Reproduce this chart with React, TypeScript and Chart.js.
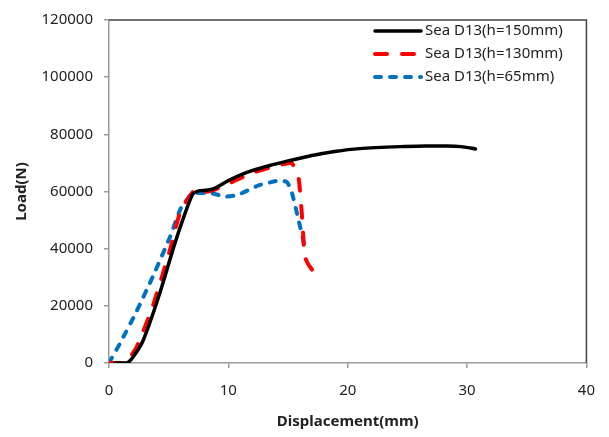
import React, { useEffect, useRef } from "react";
import { Chart, registerables } from "chart.js";

Chart.register(...registerables);

// ---- data ----
const seriesLabels = ["Sea D13(h=150mm)", "Sea D13(h=130mm)", "Sea D13(h=65mm)"];

const h150X = [0.5, 1.5, 2.0, 2.85, 4.2, 5.6, 7.0, 7.6, 8.1, 8.8, 10, 11.5, 13.4, 15, 17, 18.9, 21, 24.4, 26.5, 28.3, 29.5, 30.7];
const h150Y = [0, 0, 2000, 7800, 23700, 42900, 59000, 60300, 60400, 61000, 63800, 66600, 69000, 70700, 72600, 74000, 75000, 75700, 75900, 75950, 75700, 74900];

const h130X = [0, 1.3, 2.3, 3.7, 5.1, 6.0, 7.15, 7.9, 8.7, 10.3, 12, 13.9, 14.8, 15.3, 15.6, 15.9, 16.2, 16.4, 16.7, 17.0, 17.4];
const h130Y = [0, 0, 5500, 20300, 39500, 53100, 60400, 59800, 60400, 63300, 66500, 68900, 69700, 70000, 67900, 64400, 49700, 37300, 34500, 32700, 30200];

const h65X = [0, 0.9, 2.3, 3.7, 5.1, 6.0, 6.6, 7.0, 8.0, 8.7, 9.8, 10.9, 12.5, 13.5, 14.2, 14.9, 15.3, 15.9, 16.4];
const h65Y = [0, 6700, 18000, 30500, 44000, 54000, 57500, 59300, 59500, 59300, 58200, 59000, 62100, 63200, 63800, 63300, 59900, 49700, 40600];

const xTicks = [0, 10, 20, 30, 40];
const yTicks = [0, 20000, 40000, 60000, 80000, 100000, 120000];

const xTitle = "Displacement(mm)";
const yTitle = "Load(N)";

const FONT = "'Noto Sans', sans-serif";

const toPoints = (xs: number[], ys: number[]) => xs.map((x, i) => ({ x, y: ys[i] }));

const legendPlugin = {
  id: "customLegend",
  afterDraw(chart: any) {
    const ctx = chart.ctx;
    const rows = [31, 54, 77];
    const x0 = 375;
    const x1 = 421;
    ctx.save();
    chart.data.datasets.forEach((ds: any, i: number) => {
      const y = rows[i];
      ctx.beginPath();
      ctx.strokeStyle = ds.borderColor;
      ctx.lineWidth = ds.borderWidth;
      ctx.lineCap = ds.borderCapStyle || "butt";
      ctx.setLineDash(ds.borderDash || []);
      ctx.moveTo(x0, y);
      ctx.lineTo(x1, y);
      ctx.stroke();
      ctx.setLineDash([]);
      ctx.fillStyle = "#222";
      ctx.font = `15px ${FONT}`;
      ctx.textAlign = "left";
      ctx.textBaseline = "middle";
      ctx.fillText(ds.label, 425, y);
    });
    ctx.restore();
  },
};

const framePlugin = {
  id: "frame",
  afterDraw(chart: any) {
    const { ctx, chartArea } = chart;
    ctx.save();
    ctx.strokeStyle = "#444";
    ctx.lineWidth = 1.5;
    ctx.beginPath();
    ctx.moveTo(chartArea.left, chartArea.top);
    ctx.lineTo(chartArea.right, chartArea.top);
    ctx.lineTo(chartArea.right, chartArea.bottom);
    ctx.stroke();
    ctx.restore();
  },
};

export default function App() {
  const ref = useRef<HTMLCanvasElement | null>(null);

  useEffect(() => {
    document.body.style.margin = "0";
    const canvas = ref.current;
    if (!canvas) return;
    const chart = new Chart(canvas, {
      type: "line",
      data: {
        datasets: [
          {
            label: seriesLabels[0],
            data: toPoints(h150X, h150Y),
            borderColor: "#000000",
            borderWidth: 3.5,
            borderCapStyle: "round",
            pointRadius: 0,
            tension: 0.2,
            fill: false,
          },
          {
            label: seriesLabels[1],
            data: toPoints(h130X, h130Y),
            borderColor: "#ff0000",
            borderWidth: 4,
            borderDash: [12, 15],
            borderCapStyle: "round",
            pointRadius: 0,
            tension: 0.2,
            fill: false,
          },
          {
            label: seriesLabels[2],
            data: toPoints(h65X, h65Y),
            borderColor: "#0070c0",
            borderWidth: 4,
            borderDash: [6, 9],
            borderCapStyle: "round",
            pointRadius: 0,
            tension: 0.2,
            fill: false,
          },
        ],
      },
      options: {
        responsive: false,
        animation: false,
        layout: { padding: { top: 10, right: 20, bottom: 0, left: 0 } },
        plugins: {
          legend: { display: false },
          tooltip: { enabled: false },
        },
        scales: {
          x: {
            type: "linear",
            min: 0,
            max: 40,
            afterBuildTicks: (scale: any) => {
              scale.ticks = xTicks.map((v) => ({ value: v }));
            },
            afterFit: (scale: any) => {
              scale.height = 74;
            },
            ticks: {
              font: { family: FONT, size: 15 },
              color: "#222",
              padding: 14,
              maxRotation: 0,
              callback: (v: any) => String(v),
            },
            grid: {
              drawOnChartArea: false,
              drawTicks: true,
              tickLength: 5,
              color: "#9a9a9a",
              lineWidth: 1.5,
            },
            border: { color: "#9a9a9a", width: 1.5 },
            title: {
              display: true,
              text: xTitle,
              font: { family: FONT, size: 15, weight: "bold" },
              color: "#222",
              padding: { top: 0, bottom: 6 },
            },
          },
          y: {
            type: "linear",
            min: 0,
            max: 120000,
            afterBuildTicks: (scale: any) => {
              scale.ticks = yTicks.map((v) => ({ value: v }));
            },
            afterFit: (scale: any) => {
              scale.width = 109;
            },
            ticks: {
              font: { family: FONT, size: 15 },
              color: "#222",
              padding: 11,
              callback: (v: any) => String(v),
            },
            grid: {
              drawOnChartArea: false,
              drawTicks: true,
              tickLength: 5,
              color: "#9a9a9a",
              lineWidth: 1.5,
            },
            border: { color: "#9a9a9a", width: 1.5 },
            title: {
              display: true,
              text: yTitle,
              font: { family: FONT, size: 15, weight: "bold" },
              color: "#222",
              padding: { top: 13, bottom: 0 },
            },
          },
        },
      },
      plugins: [legendPlugin, framePlugin],
    });
    return () => chart.destroy();
  }, []);

  return (
    <div style={{ width: 609, height: 437 }}>
      <canvas ref={ref} width={609} height={437} style={{ display: "block", width: 609, height: 437 }} />
    </div>
  );
}
